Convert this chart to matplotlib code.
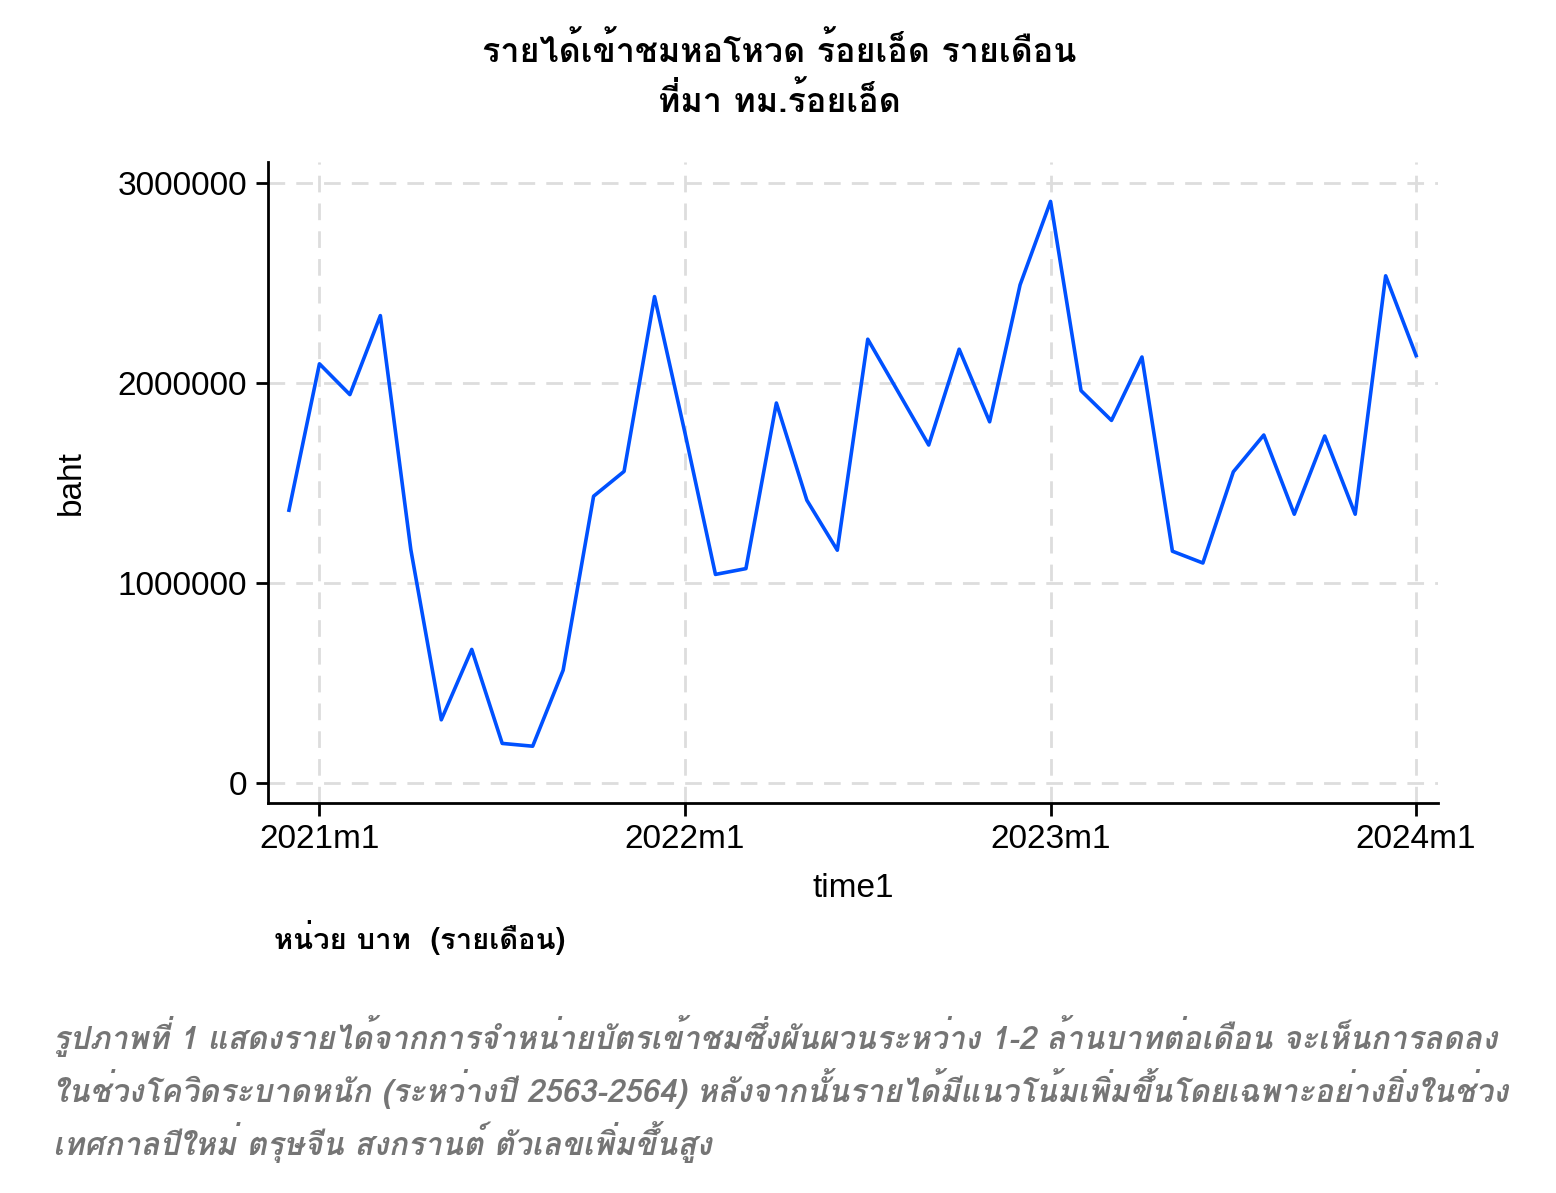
import numpy as np
import matplotlib
matplotlib.use("Agg")
import matplotlib.pyplot as plt

# monthly ticket income, 2020m12 .. 2024m1 (baht)
months = ["2020m12"] + ["%dm%d" % (y, m) for y in (2021, 2022, 2023) for m in range(1, 13)] + ["2024m1"]
income = [1364000, 2096000, 1942000, 2337000, 1167000, 316000, 668000, 198000, 184000, 564000,
          1434000, 1558000, 2432000,
          1750000, 1043000, 1072000, 1900000, 1414000, 1164000, 2219000, 1955000, 1690000,
          2169000, 1806000, 2491000,
          2908000, 1962000, 1813000, 2130000, 1159000, 1100000, 1556000, 1740000, 1344000,
          1735000, 1344000, 2536000, 2137000]
tick_labels = ["2021m1", "2022m1", "2023m1", "2024m1"]
ytick_vals = [0, 1000000, 2000000, 3000000]

title = "รายได้เข้าชมหอโหวด ร้อยเอ็ด รายเดือน\nที่มา ทม.ร้อยเอ็ด"
unit_note = "หน่วย บาท  (รายเดือน)"
caption = ["รูปภาพที่ 1 แสดงรายได้จากการจำหน่ายบัตรเข้าชมซึ่งผันผวนระหว่าง 1-2 ล้านบาทต่อเดือน จะเห็นการลดลง",
           "ในช่วงโควิดระบาดหนัก (ระหว่างปี 2563-2564) หลังจากนั้นรายได้มีแนวโน้มเพิ่มขึ้นโดยเฉพาะอย่างยิ่งในช่วง",
           "เทศกาลปีใหม่ ตรุษจีน สงกรานต์ ตัวเลขเพิ่มขึ้นสูง"]

# Loma stacks the Thai tone marks right without a shaping engine
thai_fams = ["Loma", "Liberation Sans", "DejaVu Sans"]
plt.rcParams["font.family"] = ["Liberation Sans", "DejaVu Sans"]

fig = plt.figure(figsize=(15.56, 11.93), dpi=100)
ax = fig.add_axes([0.1722, 0.3269, 0.752, 0.5373])

t = np.arange(len(income))
ax.plot(t, income, color="#0051ff", lw=2.6)

ax.set_xlim(-0.69, 37.72)
ax.set_ylim(-100000, 3105000)
ax.set_xticks([months.index(s) for s in tick_labels])
ax.set_xticklabels(tick_labels)
ax.set_yticks(ytick_vals)
ax.set_yticklabels([str(v) for v in ytick_vals])
ax.tick_params(labelsize=24, length=9, width=2, pad=6)
ax.grid(True, color="#dddddd", ls=(0, (6, 4)), lw=2)

for s in ["top", "right"]:
    ax.spines[s].set_visible(False)
for s in ["left", "bottom"]:
    ax.spines[s].set_linewidth(2)

ax.set_ylabel("baht", fontsize=24, labelpad=22)
ax.set_xlabel("time1", fontsize=24, labelpad=13)

fig.text(0.501, 0.937, title, ha="center", va="center", fontsize=24.5, fontweight="bold",
         family=thai_fams, linespacing=1.5)
fig.text(0.176, 0.214, unit_note, ha="left", va="center", fontsize=21, fontweight="bold",
         family=thai_fams)
for i, line in enumerate(caption):
    fig.text(0.034, 0.132 - i * 0.0445, line, ha="left", va="center", fontsize=22.5,
             fontweight="bold", style="italic", color="#757575", family=thai_fams)

fig.savefig("out.png", dpi=100)
